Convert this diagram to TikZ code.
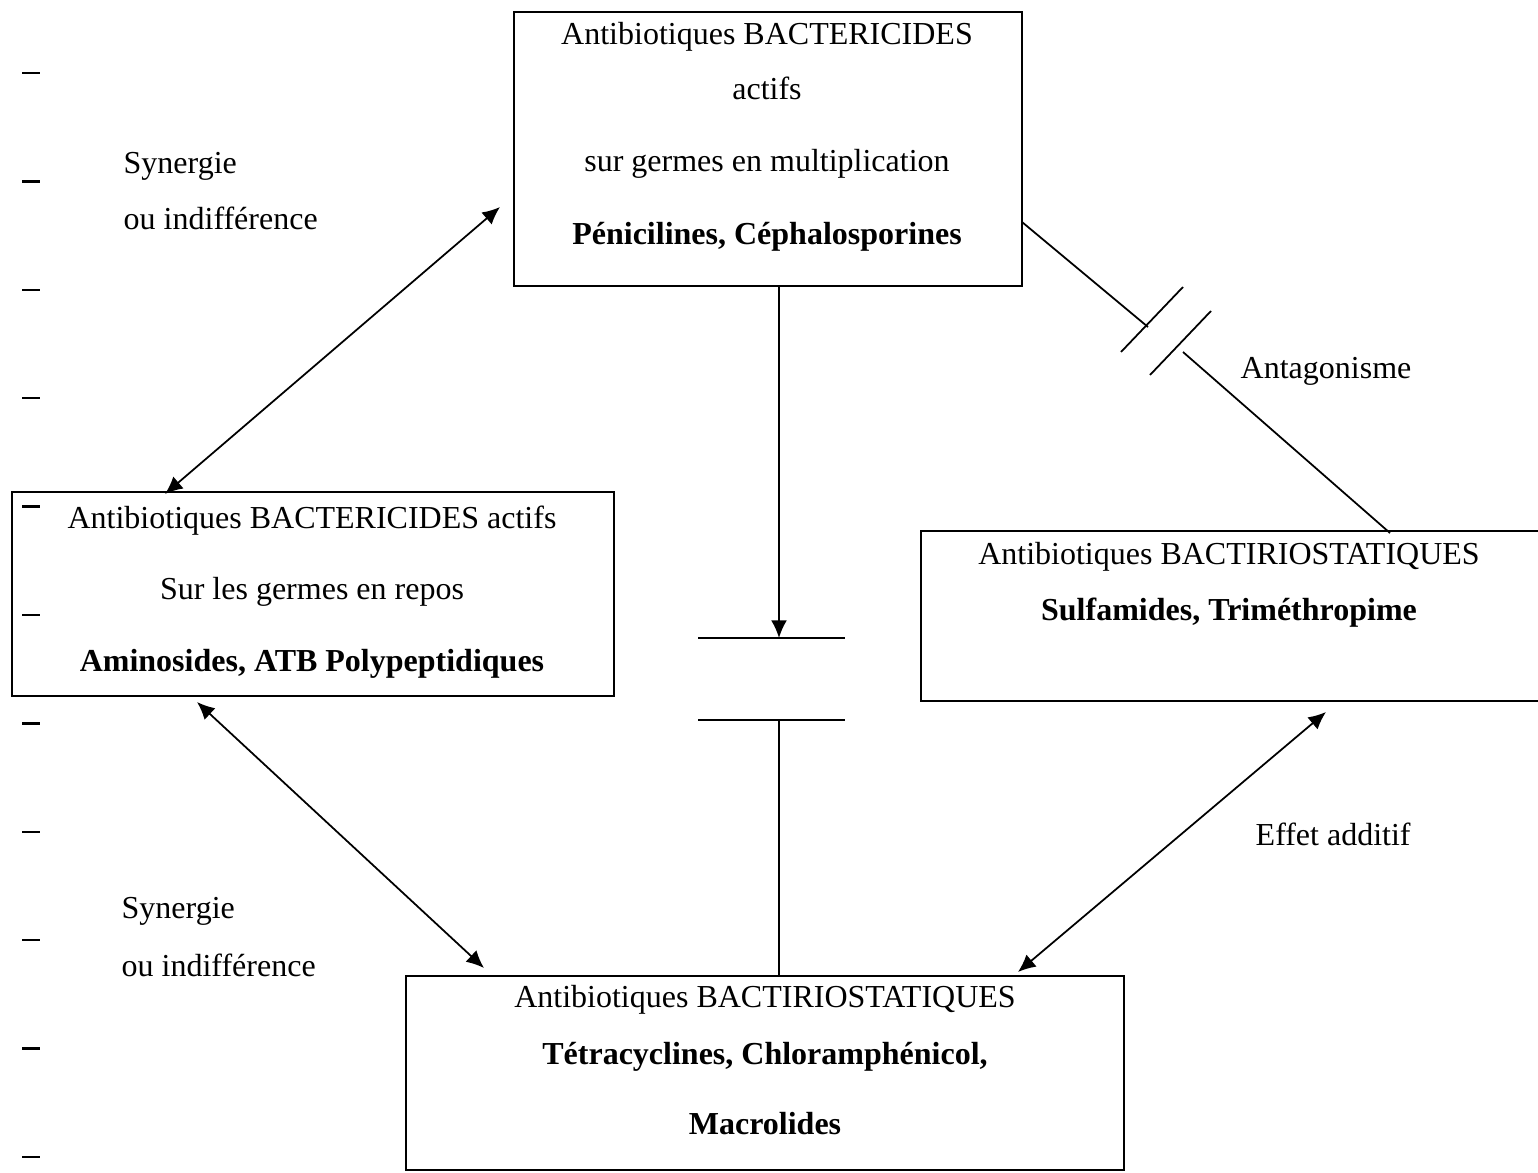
\documentclass[tikz,border=0pt]{standalone}
\usepackage{fontspec}
\setmainfont{Liberation Serif}
\usetikzlibrary{arrows.meta}
\tikzset{
	boite/.style={draw, line width=0.6pt, inner sep=0pt},
	ligne/.style={anchor=base, inner sep=0pt, font=\fontsize{9.1}{11}\selectfont},
	etiq/.style={anchor=base west, inner sep=0pt, font=\fontsize{9.1}{11}\selectfont},
	fleche/.style={line width=0.5pt, {Latex[length=5pt,width=4.5pt]}-{Latex[length=5pt,width=4.5pt]}},
	trait/.style={line width=0.5pt}
}

\begin{document}
\begin{tikzpicture}[x=0.01cm, y=-0.01cm]
	\useasboundingbox (0,0) rectangle (1538,1173);

	% les quatre cadres
	\node (haut)   at (768,149)  [boite, minimum width=5.08cm, minimum height=2.74cm] {};
	\node (gauche) at (313,594)  [boite, minimum width=6.02cm, minimum height=2.04cm] {};
	\node (droite) at (1230,616) [inner sep=0pt, minimum width=6.16cm, minimum height=1.68cm] {};
	\node (bas)    at (765,1073) [boite, minimum width=7.18cm, minimum height=1.94cm] {};
	\draw[line width=0.6pt] (droite.north east) -- (droite.north west) -- (droite.south west) -- (droite.south east);

	% textes des cadres
	\node (h1) at (767,45)  [ligne] {Antibiotiques BACTERICIDES};
	\node (h2) at (767,100) [ligne] {actifs};
	\node (h3) at (767,172) [ligne] {sur germes en multiplication};
	\node (h4) at (767,245) [ligne] {\bfseries Pénicilines, Céphalosporines};

	\node (g1) at (312,528) [ligne] {Antibiotiques BACTERICIDES actifs};
	\node (g2) at (312,600) [ligne] {Sur les germes en repos};
	\node (g3) at (312,672) [ligne] {\bfseries Aminosides, ATB Polypeptidiques};

	\node (d1) at (1229,564) [ligne] {Antibiotiques BACTIRIOSTATIQUES};
	\node (d2) at (1229,621) [ligne] {\bfseries Sulfamides, Triméthropime};

	\node (b1) at (765,1008) [ligne] {Antibiotiques BACTIRIOSTATIQUES};
	\node (b2) at (765,1064) [ligne] {\bfseries Tétracyclines, Chloramphénicol,};
	\node (b3) at (765,1134) [ligne] {\bfseries Macrolides};

	% etiquettes
	\node (syn1)  at (123,174)  [etiq] {Synergie};
	\node (ind1)  at (123,230)  [etiq] {ou indifférence};
	\node (syn2)  at (121,919)  [etiq] {Synergie};
	\node (ind2)  at (121,976)  [etiq] {ou indifférence};
	\node (antag) at (1240,379) [etiq] {Antagonisme};
	\node (addit) at (1255,846) [etiq] {Effet additif};

	% extremites des fleches
	\coordinate (hg) at (500,207);
	\coordinate (gh) at (165,494);
	\coordinate (gb) at (197,702);
	\coordinate (bg) at (484,968);
	\coordinate (db) at (1326,712);
	\coordinate (bd) at (1018,972);
	\coordinate (hb) at (779,286);
	\coordinate (bh) at (779,976);

	% les deux barres
	\coordinate (b1g) at (698,638);
	\coordinate (b1d) at (845,638);
	\coordinate (b2g) at (698,720);
	\coordinate (b2d) at (845,720);
	\coordinate (b1m) at (779,638);
	\coordinate (b2m) at (779,720);

	% antagonisme
	\coordinate (a1) at (1022,222);
	\coordinate (a2) at (1148,327);
	\coordinate (a3) at (1183,352);
	\coordinate (a4) at (1390,533);
	\coordinate (s1a) at (1121,352);
	\coordinate (s1b) at (1183,287);
	\coordinate (s2a) at (1150,375);
	\coordinate (s2b) at (1211,311);

	% Draw the arrows
	\draw[fleche] (hg) -- (gh);
	\draw[fleche] (gb) -- (bg);
	\draw[fleche] (db) -- (bd);
	\draw[trait, -{Latex[length=5pt,width=4.5pt]}] (hb) -- (b1m);
	\draw[trait, line width=0.6pt] (b1g) -- (b1d);
	\draw[trait, line width=0.6pt] (b2g) -- (b2d);
	\draw[trait] (b2m) -- (bh);
	\draw[trait] (a1) -- (a2);
	\draw[trait] (a3) -- (a4);
	\draw[trait] (s1a) -- (s1b);
	\draw[trait] (s2a) -- (s2b);

	% marques de marge
	\foreach \i in {0,...,10}
		\draw[line width=0.7pt] (22,{73+108.4*\i}) -- (40,{73+108.4*\i});
\end{tikzpicture}
\end{document}
